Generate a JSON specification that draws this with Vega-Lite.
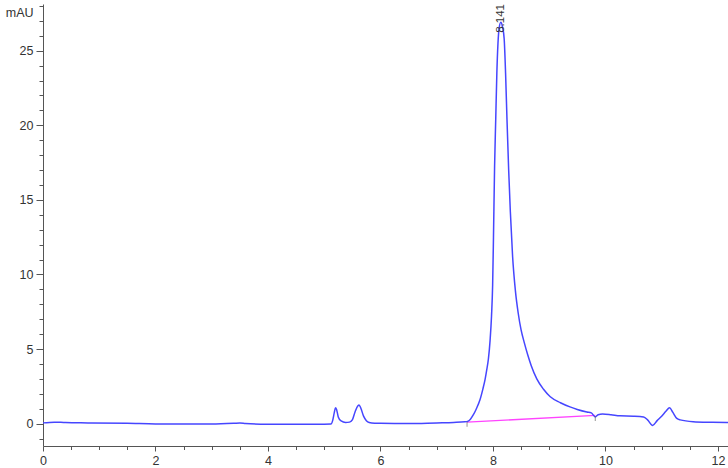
{
  "$schema": "https://vega.github.io/schema/vega-lite/v6.json",
  "width": 685,
  "height": 442,
  "autosize": "none",
  "padding": {"left": 43, "top": 4, "right": 0, "bottom": 22},
  "background": "white",
  "config": {
    "view": {"stroke": null},
    "font": "Liberation Sans",
    "axis": {"grid": false, "domainColor": "#555", "tickColor": "#555", "labelColor": "#333", "labelFont": "Liberation Sans", "labelFontSize": 12.5, "titleFont": "Liberation Sans"}
  },
  "datasets": {
    "signal": [
      {"t": 0, "mAU": 0.05}, {"t": 0.2, "mAU": 0.1}, {"t": 0.4, "mAU": 0.07}, {"t": 0.8, "mAU": 0.05},
      {"t": 1.5, "mAU": 0.02}, {"t": 2.0, "mAU": -0.02}, {"t": 2.5, "mAU": -0.03}, {"t": 3.0, "mAU": -0.03},
      {"t": 3.4, "mAU": 0.02}, {"t": 3.5, "mAU": 0.04}, {"t": 3.6, "mAU": 0.01}, {"t": 4.0, "mAU": -0.04},
      {"t": 4.5, "mAU": -0.05}, {"t": 5.0, "mAU": -0.04}, {"t": 5.12, "mAU": -0.03},
      {"t": 5.15, "mAU": 0.2}, {"t": 5.18, "mAU": 0.75}, {"t": 5.2, "mAU": 1.07}, {"t": 5.22, "mAU": 0.95},
      {"t": 5.25, "mAU": 0.45}, {"t": 5.3, "mAU": 0.18}, {"t": 5.38, "mAU": 0.08}, {"t": 5.45, "mAU": 0.1},
      {"t": 5.5, "mAU": 0.25}, {"t": 5.55, "mAU": 0.8}, {"t": 5.6, "mAU": 1.2}, {"t": 5.62, "mAU": 1.25},
      {"t": 5.65, "mAU": 1.05}, {"t": 5.7, "mAU": 0.5}, {"t": 5.75, "mAU": 0.2}, {"t": 5.8, "mAU": 0.08},
      {"t": 5.9, "mAU": 0.03}, {"t": 6.0, "mAU": 0.02}, {"t": 6.5, "mAU": 0.0}, {"t": 7.0, "mAU": 0.05},
      {"t": 7.3, "mAU": 0.08}, {"t": 7.5, "mAU": 0.12}, {"t": 7.56, "mAU": 0.17},
      {"t": 7.6, "mAU": 0.3}, {"t": 7.65, "mAU": 0.58}, {"t": 7.7, "mAU": 0.95}, {"t": 7.77, "mAU": 1.6},
      {"t": 7.82, "mAU": 2.3}, {"t": 7.86, "mAU": 2.95}, {"t": 7.89, "mAU": 3.6}, {"t": 7.92, "mAU": 4.35},
      {"t": 7.95, "mAU": 5.6}, {"t": 7.975, "mAU": 7.2}, {"t": 7.995, "mAU": 9.3}, {"t": 8.01, "mAU": 12.5}, {"t": 8.03, "mAU": 17.3},
      {"t": 8.05, "mAU": 20.4}, {"t": 8.07, "mAU": 23.5}, {"t": 8.09, "mAU": 25.5}, {"t": 8.11, "mAU": 26.5},
      {"t": 8.141, "mAU": 26.9}, {"t": 8.17, "mAU": 26.6}, {"t": 8.2, "mAU": 25.8}, {"t": 8.225, "mAU": 23.5},
      {"t": 8.25, "mAU": 20.4}, {"t": 8.28, "mAU": 17.0}, {"t": 8.31, "mAU": 14.2}, {"t": 8.35, "mAU": 11.2},
      {"t": 8.4, "mAU": 8.9}, {"t": 8.45, "mAU": 7.4}, {"t": 8.5, "mAU": 6.3}, {"t": 8.56, "mAU": 5.4},
      {"t": 8.62, "mAU": 4.6}, {"t": 8.68, "mAU": 3.9}, {"t": 8.78, "mAU": 3.0}, {"t": 8.9, "mAU": 2.3}, {"t": 9.02, "mAU": 1.8},
      {"t": 9.2, "mAU": 1.4}, {"t": 9.37, "mAU": 1.12}, {"t": 9.5, "mAU": 0.95}, {"t": 9.67, "mAU": 0.78},
      {"t": 9.75, "mAU": 0.72}, {"t": 9.82, "mAU": 0.45}, {"t": 9.87, "mAU": 0.6}, {"t": 9.95, "mAU": 0.65},
      {"t": 10.1, "mAU": 0.6}, {"t": 10.26, "mAU": 0.52}, {"t": 10.5, "mAU": 0.5}, {"t": 10.68, "mAU": 0.45},
      {"t": 10.75, "mAU": 0.25}, {"t": 10.84, "mAU": -0.12}, {"t": 10.92, "mAU": 0.2}, {"t": 11.0, "mAU": 0.5},
      {"t": 11.08, "mAU": 0.85}, {"t": 11.14, "mAU": 1.07}, {"t": 11.2, "mAU": 0.75}, {"t": 11.27, "mAU": 0.35},
      {"t": 11.33, "mAU": 0.25}, {"t": 11.56, "mAU": 0.13}, {"t": 11.9, "mAU": 0.09}, {"t": 12.18, "mAU": 0.07}
    ],
    "baseline": [{"t": 7.54, "mAU": 0.1}, {"t": 9.82, "mAU": 0.55}],
    "marks": [{"t": 7.54, "mAU": -0.05}, {"t": 9.82, "mAU": 0.35}],
    "peaks": [{"t": 8.141, "mAU": 26.2, "label": "8.141"}]
  },
  "layer": [
    {
      "data": {"name": "signal"},
      "mark": {"type": "line", "opacity": 0},
      "encoding": {
        "x": {"field": "t", "type": "quantitative", "scale": {"domain": [0, 12.18], "nice": false, "zero": false},
              "axis": {"orient": "bottom", "values": [0.5,1,1.5,2.5,3,3.5,4.5,5,5.5,6.5,7,7.5,8.5,9,9.5,10.5,11,11.5], "labels": false, "tickSize": 3.5, "domain": false, "title": null}},
        "y": {"field": "mAU", "type": "quantitative", "scale": {"domain": [-1.5, 28.13], "nice": false, "zero": false},
              "axis": {"orient": "left", "values": [-1,1,2,3,4,6,7,8,9,11,12,13,14,16,17,18,19,21,22,23,24,26,27,28], "labels": false, "tickSize": 4, "domain": false, "title": null}}
      }
    },
    {
      "data": {"name": "baseline"},
      "mark": {"type": "line", "color": "#ff44ff", "strokeWidth": 1.3},
      "encoding": {
        "x": {"field": "t", "type": "quantitative", "axis": null},
        "y": {"field": "mAU", "type": "quantitative", "axis": null}
      }
    },
    {
      "data": {"name": "signal"},
      "mark": {"type": "line", "color": "#4646ff", "strokeWidth": 1.5, "interpolate": "monotone"},
      "encoding": {
        "x": {"field": "t", "type": "quantitative",
              "axis": {"orient": "bottom", "values": [0,2,4,6,8,10,12], "tickSize": 5, "labelPadding": 3, "labelFlush": false, "title": null}},
        "y": {"field": "mAU", "type": "quantitative",
              "axis": {"orient": "left", "values": [0,5,10,15,20,25], "tickSize": 7, "labelPadding": 3,
                       "title": "mAU", "titleAngle": 0, "titleAlign": "right", "titleBaseline": "middle",
                       "titleX": -10, "titleY": 8, "titleFontSize": 12.5, "titleFontWeight": "normal", "titleColor": "#333"}}
      }
    },
    {
      "data": {"name": "marks"},
      "mark": {"type": "tick", "orient": "vertical", "color": "#666", "size": 5, "thickness": 1},
      "encoding": {
        "x": {"field": "t", "type": "quantitative", "axis": null},
        "y": {"field": "mAU", "type": "quantitative", "axis": null}
      }
    },
    {
      "data": {"name": "peaks"},
      "mark": {"type": "text", "angle": 270, "align": "left", "baseline": "middle", "fontSize": 11.5, "color": "#333", "font": "Liberation Sans"},
      "encoding": {
        "x": {"field": "t", "type": "quantitative", "axis": null},
        "y": {"field": "mAU", "type": "quantitative", "axis": null},
        "text": {"field": "label"}
      }
    }
  ],
  "resolve": {"axis": {"x": "independent", "y": "independent"}}
}
